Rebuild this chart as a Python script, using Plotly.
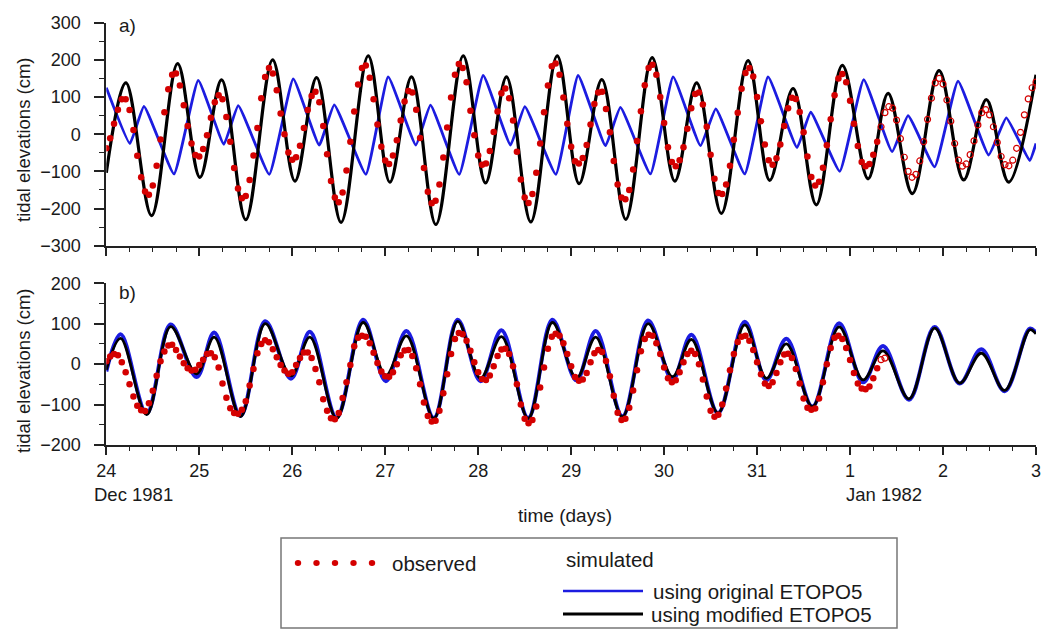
import plotly.graph_objects as go

# page is 1051x637; the browser body keeps its default 8px margin
PAGE_W, PAGE_H = 1051, 637
OFF = 8
W, H = PAGE_W - 2 * OFF, PAGE_H - 2 * OFF

# ---------------- data ----------------
# time axis: days since 24 Dec 1981 00:00
day_ticks = [0, 1, 2, 3, 4, 5, 6, 7, 8, 9, 10]
day_labels = ["24", "25", "26", "27", "28", "29", "30", "31", "1", "2", "3"]

# observed hourly tidal elevations (cm), station a), starting 24 Dec 00:00
obs_a = [
    -38, -11, 28, 66, 94, 94, 65, 11, -58, -116, -154, -163, -138, -85, -14, 59, 121, 160, 163, 131, 78, 22, -25, -56,
    -60, -40, -3, 44, 86, 105, 94, 46, -20, -91, -146, -172, -166, -123, -57, 17, 97, 154, 178, 163, 118, 56, 0, -49,
    -69, -62, -31, 17, 65, 103, 114, 86, 22, -54, -126, -170, -183, -157, -98, -20, 61, 134, 178, 185, 152, 94, 26, -34,
    -71, -80, -57, -16, 37, 88, 116, 112, 66, -10, -91, -155, -186, -179, -135, -63, 18, 99, 160, 189, 178, 140, 63, -3,
    -57, -82, -79, -45, 6, 61, 110, 123, 97, 37, -47, -122, -170, -185, -161, -104, -25, 59, 131, 183, 190, 160, 99, 28,
    -34, -73, -79, -64, -29, 26, 81, 112, 114, 68, 5, -72, -135, -170, -175, -150, -95, -18, 62, 132, 178, 187, 160, 100,
    30, -35, -75, -86, -70, -35, 15, 70, 108, 112, 80, 20, -55, -120, -158, -161, -135, -85, -15, 58, 122, 165, 178, 155,
    100, 35, -28, -70, -82, -65, -28, 22, 70, 98, 95, 60, 5, -60, -115, -138, -128, -90, -30, 40, 105, 150, 162, 140,
    90, 28, -32, -75, -86, -80, -55, -20, 20, 58, 74, 70, 38, -12, -62, -100, -116, -108, -72, -20, 40, 97, 138, 150,
    135, 92, 35, -25, -70, -86, -80, -55, -18, 25, 58, 66, 52, 20, -22, -60, -82, -85, -70, -38, 5, 52, 95, 125, 140,
]
obs_a_solid = 200   # hours shown as filled dots (rest hollow)

# observed hourly tidal elevations (cm), station b)
obs_b = [
    7, 19, 25, 22, 5, -20, -50, -80, -103, -114, -116, -97, -66, -29, 7, 31, 46, 48, 35, 19, 2, -10, -16, -14,
    -2, 11, 25, 27, 17, -8, -48, -83, -109, -121, -123, -113, -92, -53, -12, 27, 50, 59, 54, 37, 17, -2, -16, -24,
    -20, -2, 15, 29, 29, 15, -12, -45, -87, -115, -134, -136, -121, -84, -45, -2, 44, 65, 70, 68, 52, 28, 3, -18,
    -30, -31, -20, 0, 22, 34, 35, 20, -10, -50, -95, -128, -142, -140, -115, -72, -25, 25, 62, 77, 74, 58, 33, 5,
    -20, -37, -39, -28, -5, 20, 36, 38, 25, -5, -50, -100, -135, -146, -138, -105, -58, -8, 38, 68, 75, 70, 52, 25,
    -5, -32, -41, -38, -22, 5, 27, 35, 30, 8, -30, -78, -120, -138, -135, -108, -65, -15, 32, 62, 73, 70, 52, 25,
    -8, -35, -45, -40, -20, 5, 25, 33, 25, 0, -38, -80, -115, -130, -125, -100, -60, -15, 25, 55, 68, 70, 58, 35,
    5, -25, -48, -54, -45, -22, 5, 24, 26, 15, -12, -48, -85, -108, -113, -110, -85, -45, 0, 40, 65, 70, 62, 40,
    10, -22, -48, -60, -62, -55, -35, -10, 11, 15,
]
obs_b_solid = 200

# simulated, modified ETOPO5, station a) : turning points (day, cm)
black_a_t = [0, 0.211, 0.487, 0.767, 1.007, 1.24, 1.50, 1.789, 2.029, 2.262, 2.525, 2.817, 3.05, 3.283,
             3.545, 3.839, 4.079, 4.305, 4.566, 4.85, 5.086, 5.33, 5.588, 5.871, 6.115, 6.35, 6.616,
             6.903, 7.136, 7.387, 7.637, 7.917, 8.194, 8.409, 8.67, 8.957, 9.222, 9.466, 9.706, 10.0]
black_a_v = [-104, 138, -219, 190, -116, 146, -230, 200, -126, 152, -237, 211, -129, 154,
             -243, 211, -131, 154, -236, 211, -133, 147, -229, 206, -126, 138, -213,
             198, -124, 123, -190, 185, -120, 110, -160, 171, -123, 93, -129, 160]

# simulated, original ETOPO5, station a)
blue_a_t = [0, 0.254, 0.405, 0.728, 0.989, 1.265, 1.419, 1.753, 2.011, 2.29, 2.452, 2.792, 3.032, 3.33,
            3.487, 3.796, 4.054, 4.348, 4.502, 4.835, 5.075, 5.369, 5.53, 5.853, 6.097, 6.391, 6.556,
            6.867, 7.118, 7.43, 7.577, 7.889, 8.147, 8.452, 8.624, 8.91, 9.161, 9.491, 9.681, 9.932, 10.0]
blue_a_v = [125, -25, 75, -107, 145, -27, 77, -108, 149, -29, 79, -108, 154, -29,
            78, -108, 158, -29, 74, -108, 158, -31, 72, -107, 154, -31, 68,
            -107, 154, -36, 59, -100, 147, -47, 50, -88, 143, -56, 44, -71, -25]

# simulated, modified ETOPO5, station b)
black_b_t = [0, 0.154, 0.434, 0.692, 0.971, 1.161, 1.444, 1.71, 1.986, 2.19, 2.477, 2.763, 3.007, 3.229,
             3.523, 3.78, 4.025, 4.251, 4.538, 4.799, 5.057, 5.265, 5.552, 5.828, 6.09, 6.294, 6.58,
             6.867, 7.1, 7.315, 7.595, 7.882, 8.14, 8.355, 8.634, 8.91, 9.179, 9.412, 9.663, 9.932, 10.0]
black_b_v = [-14, 64, -125, 93, -24, 67, -130, 100, -29, 67, -134, 103, -28, 70,
             -134, 106, -35, 68, -134, 103, -35, 67, -130, 100, -31, 61, -121,
             97, -35, 50, -105, 92, -39, 33, -86, 89, -47, 27, -65, 85, 75]

# simulated, original ETOPO5, station b)
blue_b_t = black_b_t
blue_b_v = [-18, 74, -122, 98, -32, 78, -128, 106, -36, 80, -132, 110, -42, 82,
            -133, 110, -42, 84, -133, 110, -40, 82, -129, 108, -38, 73, -121,
            105, -40, 63, -105, 101, -45, 45, -88, 92, -48, 37, -67, 88, 78]

series_names = ["observed", "using original ETOPO5", "using modified ETOPO5"]

# ---------------- styling ----------------
RED = "#d40000"
BLUE = "#1c1ce0"
BLACK = "#000000"
AXC = "#222222"
TXT = "#1a1a1a"
FONT = "Liberation Sans, Arial, sans-serif"


def px(x):  # page pixel -> paper fraction
    return (x - OFF) / W


def py(y):
    return 1 - (y - OFF) / H


def hours(vals):
    return [h / 24 for h in range(len(vals))]


fig = go.Figure()

# ---- panel a ----
fig.add_trace(go.Scatter(x=blue_a_t, y=blue_a_v, mode="lines",
                         line=dict(color=BLUE, width=2.8, shape="spline", smoothing=0.35),
                         xaxis="x", yaxis="y", showlegend=False))
fig.add_trace(go.Scatter(x=black_a_t, y=black_a_v, mode="lines",
                         line=dict(color=BLACK, width=3.2, shape="spline", smoothing=1.0),
                         xaxis="x", yaxis="y", showlegend=False))
ta = hours(obs_a)
fig.add_trace(go.Scatter(x=ta[:obs_a_solid], y=obs_a[:obs_a_solid], mode="markers",
                         marker=dict(color=RED, size=6.5, line=dict(width=0)),
                         xaxis="x", yaxis="y", showlegend=False))
fig.add_trace(go.Scatter(x=ta[obs_a_solid:], y=obs_a[obs_a_solid:], mode="markers",
                         marker=dict(color=RED, size=6, symbol="circle-open", line=dict(width=1.2)),
                         xaxis="x", yaxis="y", showlegend=False))

# ---- panel b ----
fig.add_trace(go.Scatter(x=blue_b_t, y=blue_b_v, mode="lines",
                         line=dict(color=BLUE, width=4, shape="spline", smoothing=1.0),
                         xaxis="x2", yaxis="y2", showlegend=False))
fig.add_trace(go.Scatter(x=black_b_t, y=black_b_v, mode="lines",
                         line=dict(color=BLACK, width=2.8, shape="spline", smoothing=1.0),
                         xaxis="x2", yaxis="y2", showlegend=False))
tb = hours(obs_b)
fig.add_trace(go.Scatter(x=tb[:obs_b_solid], y=obs_b[:obs_b_solid], mode="markers",
                         marker=dict(color=RED, size=6.5, line=dict(width=0)),
                         xaxis="x2", yaxis="y2", showlegend=False))
fig.add_trace(go.Scatter(x=tb[obs_b_solid:], y=obs_b[obs_b_solid:], mode="markers",
                         marker=dict(color=RED, size=6, symbol="circle-open", line=dict(width=1.2)),
                         xaxis="x2", yaxis="y2", showlegend=False))

tickfont = dict(family=FONT, size=18, color=TXT)

xcommon = dict(range=[0, 10], domain=[px(106.3), px(1036)], showgrid=False, zeroline=False,
               showline=True, linecolor=AXC, linewidth=2, ticks="outside", ticklen=8, tickwidth=1.5,
               tickcolor=AXC, tickvals=day_ticks, tickfont=tickfont, automargin=False,
               minor=dict(dtick=0.25, ticks="outside", ticklen=4, tickwidth=1.2, tickcolor=AXC))
ycommon = dict(showgrid=False, zeroline=False, showline=True, linecolor=AXC, linewidth=2,
               ticks="outside", ticklen=10, tickwidth=1.5, tickcolor=AXC, tickfont=tickfont,
               ticklabelstandoff=10, dtick=100, automargin=False,
               minor=dict(dtick=50, ticks="outside", ticklen=5, tickwidth=1.2, tickcolor=AXC))

fig.update_layout(
    width=W, height=H, margin=dict(l=0, r=0, t=0, b=0, pad=0, autoexpand=False),
    paper_bgcolor="white", plot_bgcolor="white",
    font=dict(family=FONT, size=18, color=TXT),
    xaxis=dict(**xcommon, anchor="y", showticklabels=False),
    yaxis=dict(**ycommon, anchor="x", domain=[py(245.7), py(22.7)], range=[-300, 300]),
    xaxis2=dict(**xcommon, anchor="y2", ticktext=day_labels, ticklabelstandoff=0),
    yaxis2=dict(**ycommon, anchor="x2", domain=[py(445), py(283.3)], range=[-200, 200]),
)

ann = []


def text(x, y, s, size=18, xanchor="left", angle=0):
    ann.append(dict(x=px(x), y=py(y), xref="paper", yref="paper", text=s, showarrow=False,
                    xanchor=xanchor, yanchor="middle", textangle=angle, borderpad=0,
                    font=dict(family=FONT, size=size, color=TXT)))


text(118, 25, "a)", 19)
text(118, 292, "b)", 19)
text(23, 140, "tidal elevations (cm)", 18.5, "center", -90)
text(23, 371, "tidal elevations (cm)", 18.5, "center", -90)
text(93, 494, "Dec 1981", 18.5)
text(845, 494, "Jan 1982", 18.5)
text(565, 515, "time (days)", 19, "center")

# legend box
text(391, 563, series_names[0], 20.5)
text(565, 559, "simulated", 20.5)
text(652, 591, series_names[1], 20.5)
text(650, 614, series_names[2], 20.5)
fig.update_layout(annotations=ann)

shapes = [dict(type="rect", xref="paper", yref="paper", x0=px(281), x1=px(897), y0=py(628), y1=py(538),
               line=dict(color="#777", width=1.5), fillcolor="rgba(0,0,0,0)")]
for cx in [298, 316.5, 335, 353.5, 372]:
    shapes.append(dict(type="circle", xref="paper", yref="paper", x0=px(cx - 3.2), x1=px(cx + 3.2),
                       y0=py(563 + 3), y1=py(563 - 3), fillcolor=RED, line=dict(width=0)))
shapes.append(dict(type="line", xref="paper", yref="paper", x0=px(563), x1=px(643), y0=py(591), y1=py(591),
                   line=dict(color=BLUE, width=2.5)))
shapes.append(dict(type="line", xref="paper", yref="paper", x0=px(563), x1=px(643), y0=py(614), y1=py(614),
                   line=dict(color=BLACK, width=3)))
fig.update_layout(shapes=shapes)

fig.write_html("out.html", config={"displayModeBar": False})
